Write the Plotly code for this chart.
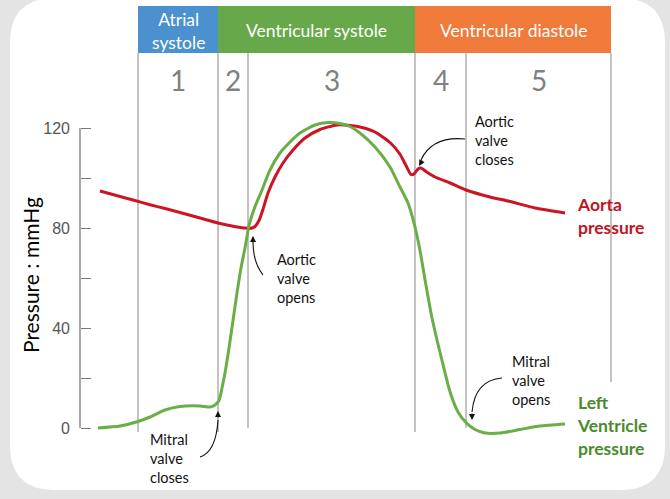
import plotly.graph_objects as go

W, H = 670, 499

# ---------------- data ----------------
# time in ms, pressure in mmHg
phase_bounds = [80, 240, 300, 634, 736, 1026]
phase_numbers = ["1", "2", "3", "4", "5"]
banner_names = ["Atrial<br>systole", "Ventricular systole", "Ventricular diastole"]
banner_spans = [(0, 1), (1, 3), (3, 5)]   # indices into phase_bounds
banner_colors = ["#4b91cf", "#67a94a", "#ef7a3a"]

aorta_t = [4, 44, 70, 104, 134, 164, 204, 240, 268, 292, 304, 314, 322, 330, 340, 354, 370,
           390, 414, 444, 478, 504, 528, 554, 584, 604, 616, 626, 632, 640, 646, 656, 674,
           704, 736, 784, 824, 874, 934]
aorta_p = [94.8, 92.6, 91.2, 89.3, 87.8, 86.2, 84.0, 82.0, 80.8, 80.0, 79.8, 80.6, 83.0, 87.5,
           94.0, 100.4, 106.0, 111.2, 116.0, 119.4, 121.2, 121.0, 120.2, 118.4, 114.2, 109.5,
           105.0, 101.4, 101.6, 103.6, 104.0, 102.6, 100.4, 98.0, 95.2, 92.4, 90.6, 88.0, 86.0]

lv_t = [0, 44, 80, 104, 134, 164, 204, 224, 234, 242, 248, 254, 262, 270, 278, 286, 294, 302,
        314, 328, 344, 364, 384, 404, 434, 460, 484, 504, 524, 554, 584, 604, 620, 634, 644,
        656, 668, 688, 704, 720, 736, 754, 774, 804, 844, 884, 934]
lv_p = [0, 0.8, 2.6, 4.4, 7.2, 8.6, 8.8, 8.4, 9.2, 11, 16, 22, 32, 43, 54, 64, 72, 81, 88.5,
        95.2, 103.2, 110, 114.4, 118, 121.2, 122.2, 121.8, 120.6, 118, 112.4, 104.4, 96.4, 90,
        80.4, 71, 57, 44, 27, 14.5, 6.4, 2.2, -0.6, -2, -2, -0.6, 0.8, 1.6]

y_ticks = [0, 20, 40, 60, 80, 100, 120]
y_ticktext = ["0", "", "40", "", "80", "", "120"]

# ---------------- helpers (pixel -> paper) ----------------
def PX(x):
    return x / W

def PY(y):
    return 1 - y / H

RED = "#cc1424"
GREEN = "#6aae47"
GREEN_TXT = "#4a8a2c"
TXT_FONT = "Lato"

fig = go.Figure()
fig.add_trace(go.Scatter(x=aorta_t, y=aorta_p, mode="lines",
                         line=dict(color=RED, width=3, shape="spline", smoothing=0.6),
                         hoverinfo="skip", showlegend=False))
fig.add_trace(go.Scatter(x=lv_t, y=lv_p, mode="lines",
                         line=dict(color=GREEN, width=3, shape="spline", smoothing=0.6),
                         hoverinfo="skip", showlegend=False))

shapes = []
# white rounded card
r = 45
L, R, T, B = 10, 665, -2, 490
card = (f"M {PX(L+r)} {PY(T)} L {PX(R-r)} {PY(T)} Q {PX(R)} {PY(T)} {PX(R)} {PY(T+r)} "
        f"L {PX(R)} {PY(B-r)} Q {PX(R)} {PY(B)} {PX(R-r)} {PY(B)} "
        f"L {PX(L+r)} {PY(B)} Q {PX(L)} {PY(B)} {PX(L)} {PY(B-r)} "
        f"L {PX(L)} {PY(T+r)} Q {PX(L)} {PY(T)} {PX(L+r)} {PY(T)} Z")
shapes.append(dict(type="path", path=card, xref="paper", yref="paper",
                   fillcolor="white", line=dict(width=0), layer="below"))

# banners
for (a, b), col in zip(banner_spans, banner_colors):
    shapes.append(dict(type="rect", xref="x", yref="paper",
                       x0=phase_bounds[a], x1=phase_bounds[b], y0=PY(53), y1=PY(6),
                       fillcolor=col, line=dict(width=0), layer="below"))

# phase divider lines
line_bottoms = [432, 432, 428, 432, 428, 382]
for xb, yb in zip(phase_bounds, line_bottoms):
    shapes.append(dict(type="line", xref="x", yref="paper", x0=xb, x1=xb,
                       y0=PY(53), y1=PY(yb), line=dict(color="#a3a3a3", width=1.3),
                       layer="below"))

# y axis line
shapes.append(dict(type="line", xref="paper", yref="y", x0=PX(80), x1=PX(80), y0=0, y1=120,
                   line=dict(color="#7a7a7a", width=1.3)))

# curved arrow stems
arrow_paths = [
    [(263, 275), (253, 262), (253, 242)],
    [(200, 457), (216, 452), (218, 420)],
    [(465, 139), (432, 136), (421, 160)],
    [(502, 378), (475, 380), (472, 412)],
]
for (p0, c, p1) in arrow_paths:
    path = f"M {PX(p0[0])} {PY(p0[1])} Q {PX(c[0])} {PY(c[1])} {PX(p1[0])} {PY(p1[1])}"
    shapes.append(dict(type="path", path=path, xref="paper", yref="paper",
                       line=dict(color="#111111", width=1.1)))

annotations = []
# banner text
for (a, b), name in zip(banner_spans, banner_names):
    annotations.append(dict(x=(phase_bounds[a] + phase_bounds[b]) / 2, xref="x",
                            y=PY(31), yref="paper", text=name, showarrow=False,
                            font=dict(family=TXT_FONT, size=17.5, color="white"),
                            xanchor="center", yanchor="middle"))
# phase numbers
for i, n in enumerate(phase_numbers):
    annotations.append(dict(x=(phase_bounds[i] + phase_bounds[i + 1]) / 2, xref="x",
                            y=PY(80), yref="paper", text=n, showarrow=False,
                            font=dict(family=TXT_FONT, size=28, color="#808080"),
                            xanchor="center", yanchor="middle"))

# notes
notes = [
    ("Aortic<br>valve<br>opens", 275, 278),
    ("Mitral<br>valve<br>closes", 148, 458),
    ("Aortic<br>valve<br>closes", 473, 140),
    ("Mitral<br>valve<br>opens", 510, 380),
]
for txt, x, y in notes:
    annotations.append(dict(x=PX(x), y=PY(y), xref="paper", yref="paper", text=txt,
                            showarrow=False, align="left", xanchor="left", yanchor="middle",
                            font=dict(family=TXT_FONT, size=14.5, color="#111111")))

# arrow heads (tip, offset of tail in px)
heads = [((253, 236), (0, 7)), ((218, 411), (0, 8)), ((419, 166), (4, -7)), ((472, 420), (0, -8))]
for (tx, ty), (ax, ay) in heads:
    annotations.append(dict(x=PX(tx), y=PY(ty), xref="paper", yref="paper", text="",
                            showarrow=True, arrowhead=2, arrowsize=1.1, arrowwidth=1.1,
                            arrowcolor="#111111", ax=ax, ay=ay))

# series labels
annotations.append(dict(x=PX(575), y=PY(216), xref="paper", yref="paper",
                        text="<b>Aorta<br>pressure</b>", showarrow=False, align="left",
                        xanchor="left", yanchor="middle",
                        font=dict(family=TXT_FONT, size=17.5, color="#c0141f")))
annotations.append(dict(x=PX(575), y=PY(425), xref="paper", yref="paper",
                        text="<b>Left<br>Ventricle<br>pressure</b>", showarrow=False,
                        align="left", xanchor="left", yanchor="middle",
                        font=dict(family=TXT_FONT, size=17.5, color=GREEN_TXT)))

# y axis title
annotations.append(dict(x=PX(30), y=PY(275), xref="paper", yref="paper",
                        text="Pressure : mmHg", textangle=-90, showarrow=False,
                        xanchor="center", yanchor="middle",
                        font=dict(family=TXT_FONT, size=21, color="#000000")))

fig.update_layout(
    width=W, height=H,
    margin=dict(l=0, r=0, t=0, b=0),
    paper_bgcolor="#e4e4e4",
    plot_bgcolor="rgba(0,0,0,0)",
    shapes=shapes,
    annotations=annotations,
    xaxis=dict(domain=[0, 1], range=[-196, 1144], visible=False, fixedrange=True),
    yaxis=dict(domain=[0, 1], range=[(428 - 499) / 2.5, 428 / 2.5], anchor="free",
               position=PX(80), showgrid=False, zeroline=False, showline=False,
               tickmode="array", tickvals=y_ticks, ticktext=y_ticktext,
               ticks="inside", ticklen=10, tickwidth=1.3, tickcolor="#7a7a7a",
               ticklabelstandoff=10,
               tickfont=dict(family="Liberation Sans", size=16, color="#555555"),
               fixedrange=True),
)

fig.write_html("out.html", config={"displayModeBar": False},
               post_script="document.body.style.margin='0';document.body.style.overflow='hidden';")
